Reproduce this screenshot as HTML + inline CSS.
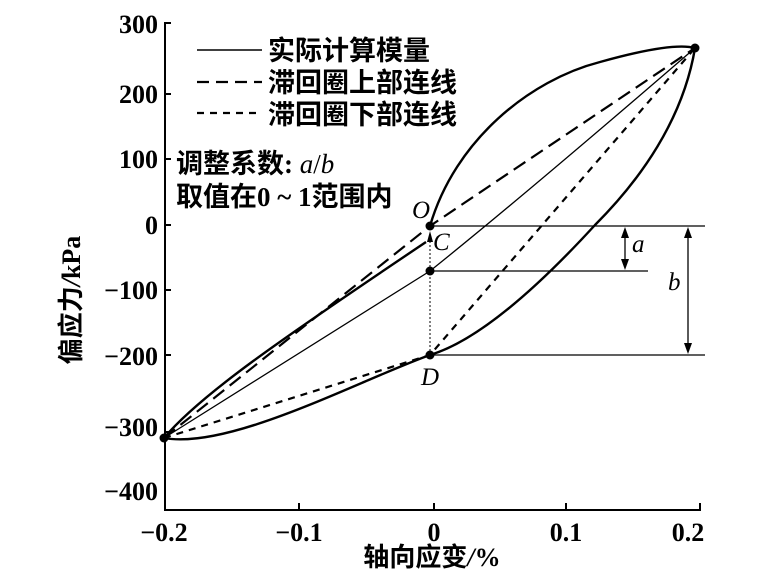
<!DOCTYPE html>
<html><head><meta charset="utf-8"><style>
body{margin:0;background:#fff;}
svg{display:block;font-family:"Liberation Serif","Noto Serif CJK SC",serif;}
.cn{font-family:"Liberation Serif","Noto Sans CJK SC",sans-serif;}
</style></head><body>
<svg width="771" height="576" viewBox="0 0 771 576" xmlns="http://www.w3.org/2000/svg">
<g stroke="#000" fill="none">
<polyline points="171,23 165,23 165,510 700,510 700,503" stroke-width="2"/>
<g stroke-width="2">
<line x1="165" y1="94" x2="171" y2="94"/><line x1="165" y1="159" x2="171" y2="159"/>
<line x1="165" y1="225" x2="171" y2="225"/><line x1="165" y1="290" x2="171" y2="290"/>
<line x1="165" y1="355" x2="171" y2="355"/><line x1="165" y1="432" x2="171" y2="432"/>
<line x1="299" y1="510" x2="299" y2="503"/><line x1="434" y1="510" x2="434" y2="503"/>
<line x1="566" y1="510" x2="566" y2="503"/>
</g>
<line x1="197" y1="50" x2="262" y2="50" stroke-width="1.5"/>
<line x1="197" y1="82" x2="262" y2="82" stroke-width="2.2" stroke-dasharray="12,7"/>
<line x1="197" y1="113" x2="262" y2="113" stroke-width="2.2" stroke-dasharray="7,6"/>
<path d="M164,438 C200,395 280,340 426,242" stroke-width="2.4"/>
<path d="M430,226 C455,140 530,80 600,62 C650,48 680,44 695,48 C683,120 640,180 595,225 C540,285 480,340 430,355 C360,380 230,450 164,438" stroke-width="2.4"/>
<path d="M164,438 L430,271 C500,215 600,130 695,48" stroke-width="1.3"/>
<path d="M164,438 L430,226 L695,48" stroke-width="2.2" stroke-dasharray="14,7"/>
<path d="M164,438 L430,355 L695,48" stroke-width="2.2" stroke-dasharray="7,6"/>
<line x1="430" y1="355" x2="430" y2="240" stroke-width="1" stroke-dasharray="2,2"/>
<line x1="430" y1="226" x2="705" y2="226" stroke-width="1.3"/>
<line x1="430" y1="271" x2="648" y2="271" stroke-width="1.3"/>
<line x1="430" y1="355" x2="705" y2="355" stroke-width="1.3"/>
<line x1="625" y1="232" x2="625" y2="265" stroke-width="1.3"/>
<line x1="688" y1="232" x2="688" y2="349" stroke-width="1.3"/>
</g>
<g fill="#000">
<polygon points="430,231 427,242 433,242"/>
<polygon points="625,227 621,238 629,238"/><polygon points="625,270 621,259 629,259"/>
<polygon points="688,227 684,238 692,238"/><polygon points="688,354 684,343 692,343"/>
<circle cx="430" cy="226" r="4.5"/><circle cx="430" cy="271" r="4.5"/><circle cx="430" cy="355" r="4.5"/>
<circle cx="164" cy="438" r="4.5"/><circle cx="695" cy="48" r="4.5"/>
</g>
<g font-size="26" font-weight="bold" text-anchor="end">
<text x="158" y="33">300</text><text x="158" y="103">200</text><text x="158" y="168">100</text>
<text x="158" y="234">0</text><text x="158" y="299">−100</text><text x="158" y="365">−200</text>
<text x="158" y="436">−300</text><text x="158" y="500">−400</text>
</g>
<g font-size="26" font-weight="bold" text-anchor="middle">
<text x="164" y="541">−0.2</text><text x="299" y="541">−0.1</text><text x="434" y="541">0</text>
<text x="566" y="541">0.1</text><text x="688" y="541">0.2</text>
</g>
<text x="432" y="566" font-size="26" font-weight="bold" text-anchor="middle" class="cn">轴向应变<tspan font-style="italic">/</tspan>%</text>
<text transform="translate(80,300) rotate(-90)" font-size="26" font-weight="bold" text-anchor="middle" class="cn">偏应力<tspan font-style="italic">/</tspan>kPa</text>
<g font-size="27" font-weight="bold" class="cn">
<text x="268" y="60">实际计算模量</text>
<text x="268" y="92">滞回圈上部连线</text>
<text x="268" y="124">滞回圈下部连线</text>
<text x="176" y="173">调整系数: <tspan font-style="italic" font-weight="normal" font-family="Liberation Serif">a</tspan><tspan font-weight="normal" font-family="Liberation Serif">/</tspan><tspan font-style="italic" font-weight="normal" font-family="Liberation Serif">b</tspan></text>
<text x="176" y="206">取值在0 ~ 1范围内</text>
</g>
<g font-size="25" font-style="italic">
<text x="412" y="218">O</text><text x="433" y="250">C</text><text x="421" y="385">D</text>
<text x="632" y="252">a</text><text x="668" y="290">b</text>
</g>
</svg>
</body></html>
